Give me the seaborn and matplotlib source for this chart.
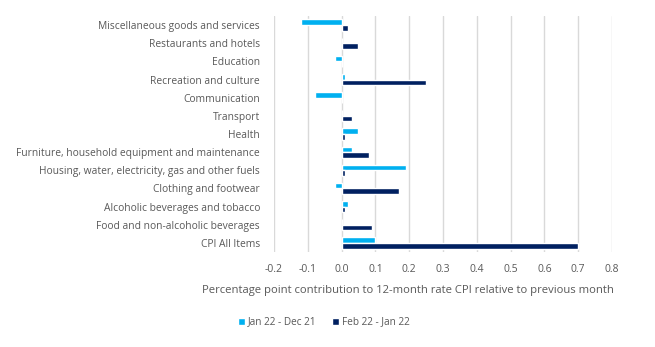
import matplotlib
matplotlib.use("Agg")
import matplotlib.pyplot as plt
import seaborn as sns
import pandas as pd

categories = [
    "Miscellaneous goods and services",
    "Restaurants and hotels",
    "Education",
    "Recreation and culture",
    "Communication",
    "Transport",
    "Health",
    "Furniture, household equipment and maintenance",
    "Housing, water, electricity, gas and other fuels",
    "Clothing and footwear",
    "Alcoholic beverages and tobacco",
    "Food and non-alcoholic beverages",
    "CPI All Items",
]
jan22_dec21 = [-0.12, 0.00, -0.02, 0.01, -0.08, 0.00, 0.05, 0.03, 0.19, -0.02, 0.02, 0.00, 0.10]
feb22_jan22 = [0.02, 0.05, 0.00, 0.25, 0.00, 0.03, 0.01, 0.08, 0.01, 0.17, 0.01, 0.09, 0.70]
series_names = ["Jan 22 - Dec 21", "Feb 22 - Jan 22"]
x_ticks = [-0.2, -0.1, 0.0, 0.1, 0.2, 0.3, 0.4, 0.5, 0.6, 0.7, 0.8]

df = pd.DataFrame({
    "category": categories * 2,
    "value": jan22_dec21 + feb22_jan22,
    "series": [series_names[0]] * len(categories) + [series_names[1]] * len(categories),
})

sns.set_theme(style="white")
plt.rcParams["font.family"] = ["Open Sans", "DejaVu Sans"]
text_color = "#595959"

fig = plt.figure(figsize=(6.55, 3.47), dpi=100)
ax = fig.add_axes([274 / 655, 1 - 252 / 347, (612 - 274) / 655, (252 - 16) / 347])

sns.barplot(
    data=df, y="category", x="value", hue="series", order=categories,
    hue_order=series_names, palette=["#00B0F0", "#002060"], orient="h",
    width=0.62, ax=ax, legend=True, saturation=1,
)

ax.set_xlim(-0.2, 0.8)
ax.set_xticks(x_ticks)
ax.set_xticklabels([f"{t:.1f}" for t in x_ticks], fontsize=7.5, color=text_color)
ax.tick_params(axis="y", labelsize=7.4, labelcolor=text_color, length=0, pad=10)
ax.tick_params(axis="x", length=0, pad=9)
ax.grid(axis="x", color="#D9D9D9", linewidth=1)
ax.set_axisbelow(True)
for s in ax.spines.values():
    s.set_visible(False)
ax.set_ylabel("")
ax.set_xlabel("")
fig.text(408 / 655, 1 - 290 / 347,
         "Percentage point contribution to 12-month rate CPI relative to previous month",
         fontsize=8.1, color=text_color, ha="center", va="center")

handles, labels = ax.get_legend_handles_labels()
ax.legend_.remove()
fig.legend(handles, labels, loc="center left", bbox_to_anchor=(229 / 655, 1 - 322 / 347),
           ncol=2, frameon=False, fontsize=7.2, labelcolor=text_color,
           handlelength=0.7, handleheight=0.7, handletextpad=0.3, columnspacing=1.5)

fig.savefig("out.png", dpi=100)
